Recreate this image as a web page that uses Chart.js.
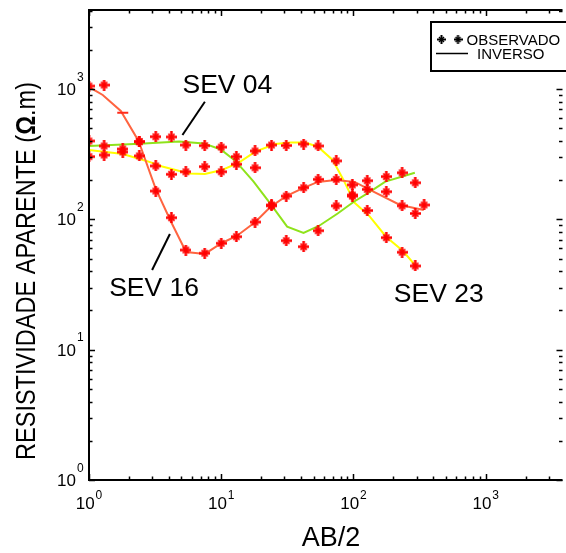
<!DOCTYPE html>
<html>
<head>
<meta charset="utf-8">
<script src="https://cdn.jsdelivr.net/npm/chart.js@4.4.1/dist/chart.umd.min.js"></script>
<style>
  html, body { margin: 0; padding: 0; background: #fff; overflow: hidden; }
  #wrap { width: 566px; height: 553px; overflow: hidden; }
</style>
</head>
<body>
<div id="wrap"><canvas id="sev-chart" width="570" height="553"></canvas></div>
<script>
// AB/2 spacings (m) of the field readings
const abObs = [1, 1.3, 1.8, 2.4, 3.2, 4.2, 5.4, 7.5, 10, 13, 18, 24, 31, 42, 54, 74, 98, 127, 177, 233, 293, 342];

// apparent resistivity readings (ohm.m)
const sev04Obs = [400, 366, 347, 395, 431, 429, 372, 368, 359, 303, 249, 129, 68.7, 61.7, 81.9, 127, 154, 198, 213, 228, 191];
const sev16Obs = [1056, 1075, 659, 395, 165, 103, 58.2, 55, 65.6, 73.6, 95.5, 127, 151, 175, 203, 203, 184, 170, 163, 127, 111, 129];
const sev23Obs = [303, 312, 329, 307, 257, 222, 232, 254, 232, 265, 335, 372, 369, 379, 366, 281, 151, 117, 72.4, 56, 43.9];

// inverted model curves
const sev04AB = [1, 2.41, 4.8, 7.39, 9.92, 12.8, 17.5, 23.5, 31.5, 41.9, 54.7, 75.9, 100, 132, 174, 291];
const sev04Inv = [366, 380, 396, 383, 344, 281, 196, 132, 88, 78.7, 89, 111, 136, 162, 195, 228];

const sev16AB = [1, 1.27, 1.74, 2.37, 3.18, 4.18, 5.42, 7.52, 10.1, 13.1, 18.1, 23.5, 31, 41.5, 53.8, 73.3, 102, 144, 225, 340];
const sev16Inv = [1038, 901, 679, 400, 174, 95.5, 56.2, 54.3, 65.9, 74.6, 95.5, 124.5, 151, 174, 194, 201, 194, 162, 129, 118];

const sev23AB = [1, 1.8, 2.72, 3.58, 5.71, 7.52, 10.1, 13.5, 18.1, 25.6, 33.7, 43, 53.8, 69.6, 84.2, 102, 132, 177, 237, 291];
const sev23Inv = [341, 318, 281, 255, 225, 223, 239, 272, 331, 379, 389, 389, 361, 286, 200, 134, 106, 73.3, 57.2, 44.7];

const xMax = 3806;
const yMax = 4046;

function pairs(xs, ys) {
  return ys.map((y, i) => ({ x: xs[i], y }));
}

// asterisk marker used for the observed readings
function makeStar(color, size, thick, thin) {
  const c = document.createElement('canvas');
  c.width = size; c.height = size;
  const g = c.getContext('2d');
  const m = size / 2;
  g.strokeStyle = color;
  g.lineWidth = thick;
  g.beginPath();
  g.moveTo(m, 0); g.lineTo(m, size);
  g.moveTo(0, m); g.lineTo(size, m);
  g.stroke();
  g.lineWidth = thin;
  const d = size * 0.22;
  g.beginPath();
  g.moveTo(d, d); g.lineTo(size - d, size - d);
  g.moveTo(size - d, d); g.lineTo(d, size - d);
  g.stroke();
  return c;
}

const redStar = makeStar('#ff0000', 11, 2.5, 1.6);
const blackStar = makeStar('#000000', 9, 2, 1.4);

function obsSet(data, styles) {
  return {
    data,
    order: 0,
    showLine: false,
    pointStyle: styles || redStar,
    pointRadius: 5.5,
    pointBorderColor: '#ff2a1a',
    pointBorderWidth: 2,
  };
}

function invSet(data, color) {
  return {
    data,
    order: 1,
    showLine: true,
    borderColor: color,
    borderWidth: 2,
    pointRadius: 0,
    tension: 0,
  };
}

// the 1.8 m reading of SEV 16 is plotted as a dash
const sev16Styles = sev16Obs.map((v, i) => (i === 2 ? 'line' : redStar));

const frame = {
  id: 'frame',
  afterDatasetsDraw(chart) {
    const ctx = chart.ctx;
    const xs = chart.scales.x;
    const ys = chart.scales.y;
    const a = chart.chartArea;
    const font = '"Liberation Sans", Arial, sans-serif';

    ctx.save();
    ctx.fillStyle = '#000';
    ctx.strokeStyle = '#000';

    // inward ticks on all four sides
    ctx.lineWidth = 1.5;
    ctx.beginPath();
    for (let p = 1; p <= xMax; p *= 10) {
      for (let m = 1; m <= 9; m++) {
        const v = m * p;
        if (v > xMax) break;
        const len = m === 1 ? 6 : 3.5;
        const px = Math.round(xs.getPixelForValue(v)) + 0.5;
        ctx.moveTo(px, a.bottom); ctx.lineTo(px, a.bottom - len);
        ctx.moveTo(px, a.top); ctx.lineTo(px, a.top + len);
      }
    }
    for (let p = 1; p <= yMax; p *= 10) {
      for (let m = 1; m <= 9; m++) {
        const v = m * p;
        if (v > yMax) break;
        const len = m === 1 ? 6 : 3.5;
        const py = Math.round(ys.getPixelForValue(v)) + 0.5;
        ctx.moveTo(a.left, py); ctx.lineTo(a.left + len, py);
        ctx.moveTo(a.right, py); ctx.lineTo(a.right - len, py);
      }
    }
    ctx.stroke();

    // axis frame (the right side runs off the page)
    ctx.lineWidth = 2;
    ctx.beginPath();
    ctx.moveTo(a.left, a.top); ctx.lineTo(a.right, a.top);
    ctx.moveTo(a.left, a.top - 1); ctx.lineTo(a.left, a.bottom + 1);
    ctx.moveTo(a.left, a.bottom); ctx.lineTo(a.right, a.bottom);
    ctx.stroke();

    // decade labels written as 10 with a raised exponent
    ctx.textBaseline = 'alphabetic';
    const big = '17px ' + font;
    const small = '12px ' + font;
    for (let e = 0; e <= 3; e++) {
      const v = Math.pow(10, e);
      ctx.font = big;
      const w10 = ctx.measureText('10').width;
      ctx.font = small;
      const wE = ctx.measureText(String(e)).width;

      const px = xs.getPixelForValue(v);
      const x0 = px - (w10 + 1 + wE) / 2;
      ctx.textAlign = 'left';
      ctx.font = big;
      ctx.fillText('10', x0, a.bottom + 29);
      ctx.font = small;
      ctx.fillText(String(e), x0 + w10 + 1, a.bottom + 19);

      const py = ys.getPixelForValue(v);
      ctx.textAlign = 'right';
      ctx.font = big;
      ctx.fillText('10', a.left - 13, py + 6);
      ctx.textAlign = 'left';
      ctx.font = small;
      ctx.fillText(String(e), a.left - 12, py - 8.5);
    }

    // axis titles
    ctx.font = '27px ' + font;
    ctx.textAlign = 'center';
    ctx.fillText('AB/2', 331, 546);

    const parts = [
      ['RESISTIVIDADE APARENTE (', '27px ' + font],
      ['\u03A9', 'bold 27px ' + font],
      ['.m)', '27px ' + font],
    ];
    let total = 0;
    parts.forEach(([t, f]) => { ctx.font = f; total += ctx.measureText(t).width; });
    const span = 378;
    ctx.save();
    ctx.translate(35, 271);
    ctx.rotate(-Math.PI / 2);
    ctx.scale(span / total, 1);
    ctx.textAlign = 'left';
    let cx = -total / 2;
    parts.forEach(([t, f]) => {
      ctx.font = f;
      ctx.fillText(t, cx, 0);
      cx += ctx.measureText(t).width;
    });
    ctx.restore();

    // curve names with leader lines, placed in data units
    const notes = [
      { text: 'SEV 04', at: [5.09, 938], line: [[7.52, 800], [5.09, 444]] },
      { text: 'SEV 16', at: [1.42, 25.9], line: [[4.09, 77.3], [3.0, 40.9]] },
      { text: 'SEV 23', at: [202, 23.4] },
    ];
    ctx.font = '26.5px ' + font;
    ctx.textAlign = 'left';
    ctx.lineWidth = 2;
    notes.forEach((n) => {
      ctx.fillText(n.text, xs.getPixelForValue(n.at[0]), ys.getPixelForValue(n.at[1]));
      if (n.line) {
        ctx.beginPath();
        ctx.moveTo(xs.getPixelForValue(n.line[0][0]), ys.getPixelForValue(n.line[0][1]));
        ctx.lineTo(xs.getPixelForValue(n.line[1][0]), ys.getPixelForValue(n.line[1][1]));
        ctx.stroke();
      }
    });

    // legend box
    ctx.fillStyle = '#fff';
    ctx.fillRect(431, 22, 150, 49);
    ctx.lineWidth = 2;
    ctx.strokeRect(431, 22, 150, 49);
    ctx.drawImage(blackStar, 437, 35);
    ctx.drawImage(blackStar, 453.5, 35);
    ctx.lineWidth = 1.5;
    ctx.beginPath();
    ctx.moveTo(436, 53.5); ctx.lineTo(468, 53.5);
    ctx.stroke();
    ctx.fillStyle = '#000';
    ctx.font = '15px ' + font;
    ctx.fillText('OBSERVADO', 466.5, 45);
    ctx.fillText('INVERSO', 477, 59);

    ctx.restore();
  },
};

new Chart(document.getElementById('sev-chart'), {
  type: 'scatter',
  data: {
    datasets: [
      obsSet(pairs(abObs, sev04Obs)),
      obsSet(pairs(abObs, sev16Obs), sev16Styles),
      obsSet(pairs(abObs, sev23Obs)),
      invSet(pairs(sev16AB, sev16Inv), '#ff6440'),
      invSet(pairs(sev04AB, sev04Inv), '#8fe31b'),
      invSet(pairs(sev23AB, sev23Inv), '#ffff00'),
    ],
  },
  options: {
    responsive: false,
    animation: false,
    layout: { padding: { left: 89, top: 10, right: 3, bottom: 73 } },
    plugins: { legend: { display: false }, tooltip: { enabled: false } },
    scales: {
      x: { type: 'logarithmic', min: 1, max: xMax, bounds: 'data', display: false },
      y: { type: 'logarithmic', min: 1, max: yMax, bounds: 'data', display: false },
    },
  },
  plugins: [frame],
});
</script>
</body>
</html>
